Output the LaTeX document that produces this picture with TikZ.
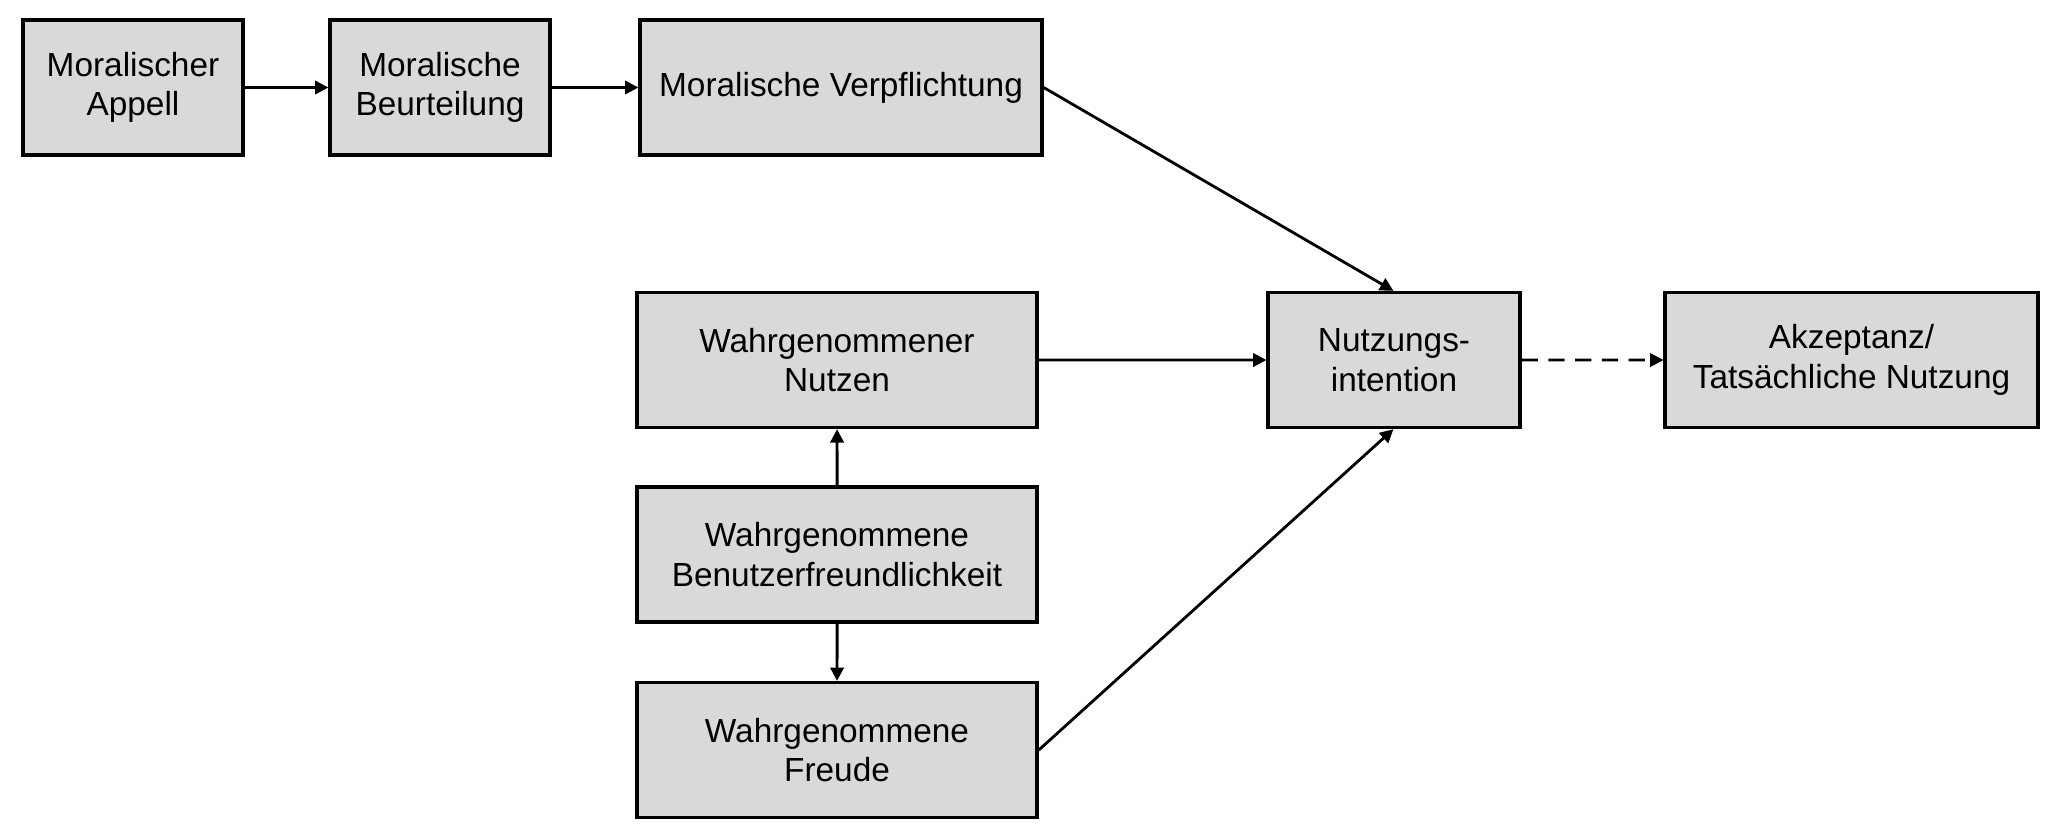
\documentclass[tikz,border=0pt]{standalone}
\usepackage{fontspec}
\setmainfont{Liberation Sans}
\usetikzlibrary{arrows.meta}

\begin{document}
\begin{tikzpicture}[scale=0.1]\fontsize{9.5}{11.3}\selectfont
	\tikzstyle{every node}+=[inner sep=0pt, align=center]
	\tikzstyle{box}=[draw=black, line width=0.95pt, fill=black!15, minimum height=1.35cm]
	\tikzstyle{link}=[black, line width=0.8pt, -{Triangle[length=3.8pt,width=3.8pt]}]
	\useasboundingbox (0,0) rectangle (205.5,-83.8);
	% moral part
	\node[box, minimum width=2.2cm] (appell) at (13.3,-8.75) {Moralischer\\Appell};
	\node[box, minimum width=2.2cm] (urteil) at (44,-8.75) {Moralische\\Beurteilung};
	\node[box, minimum width=4.02cm] (pflicht) at (84.1,-8.75) {Moralische Verpflichtung};
	% perceived factors
	\node[box, minimum width=4cm] (nutzen) at (83.7,-36) {Wahrgenommener\\Nutzen};
	\node[box, minimum width=4cm] (pbf) at (83.7,-55.45) {Wahrgenommene\\Benutzerfreundlichkeit};
	\node[box, minimum width=4cm] (freude) at (83.7,-75) {Wahrgenommene\\Freude};
	% intention and use
	\node[box, minimum width=2.52cm] (intent) at (139.4,-36) {Nutzungs-\\intention};
	\node[box, minimum width=3.73cm] (akzept) at (185.15,-36) {Akzeptanz/\\Tats\"achliche Nutzung};
	\draw[link] (appell) -- (urteil);
	\draw[link] (urteil) -- (pflicht);
	\draw[link] (pflicht.east) -- ([xshift=-0.7mm]intent.north);
	\draw[link] (nutzen) -- (intent);
	\draw[link] (pbf) -- (nutzen);
	\draw[link] (pbf) -- (freude);
	\draw[link] (freude.east) -- ([xshift=-0.7mm]intent.south);
	\draw[link, dash pattern=on 4.6pt off 3pt] (intent) -- (akzept);
\end{tikzpicture}
\end{document}
